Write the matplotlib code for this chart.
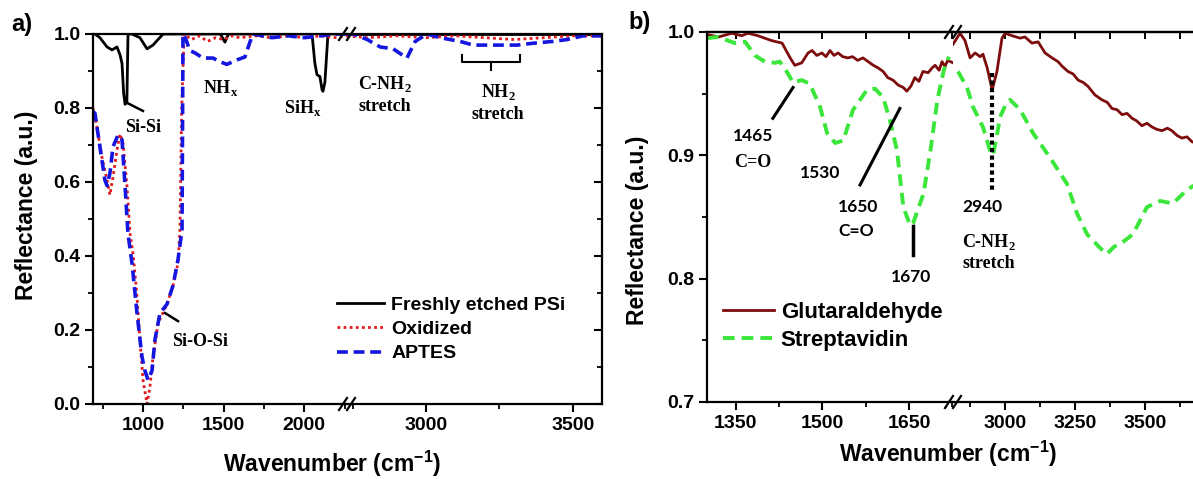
import matplotlib
matplotlib.use("Agg")
import matplotlib.pyplot as plt
from matplotlib.lines import Line2D
from matplotlib.ticker import MultipleLocator, FormatStrFormatter

# ---- panel a data (wavenumber in cm-1, reflectance) ----
psi_lo_wn = [690, 702, 733, 777, 808, 839, 858, 870, 880, 889, 900, 907, 931, 981, 1025, 1062, 1093, 1125,
             1480, 1508, 1530, 2048, 2066, 2079, 2097, 2110, 2116, 2128, 2147, 2265]
psi_lo_r = [1.0, 1.0, 0.99, 0.965, 0.957, 0.965, 0.943, 0.92, 0.84, 0.81, 0.815, 1.0, 1.0, 0.99, 0.96, 0.97,
            0.985, 1.0, 1.0, 0.978, 1.0, 1.0, 0.92, 0.89, 0.885, 0.85, 0.845, 0.87, 1.0, 1.0]
psi_hi_wn = [2730, 3600]
psi_hi_r = [1.0, 1.0]

ox_lo_wn = [690, 710, 745, 777, 795, 814, 839, 857, 876, 901, 920, 940, 963, 981, 1000, 1025, 1043, 1062,
            1093, 1149, 1186, 1217, 1229, 1240, 1255, 1300, 1350, 1400, 1450, 1500, 1550, 1600, 1700, 1800,
            1900, 2000, 2100, 2200, 2265]
ox_lo_r = [0.80, 0.76, 0.668, 0.605, 0.565, 0.614, 0.686, 0.73, 0.705, 0.587, 0.46, 0.40, 0.29, 0.173, 0.065,
           0.0, 0.046, 0.127, 0.218, 0.27, 0.32, 0.38, 0.47, 0.8, 1.0, 0.985, 0.995, 0.98, 0.99, 0.985, 0.995,
           0.99, 0.995, 0.99, 0.995, 0.99, 0.995, 0.99, 0.995]
ox_hi_wn = [2730, 2800, 2900, 3000, 3100, 3200, 3300, 3400, 3500, 3600]
ox_hi_r = [0.995, 0.99, 0.995, 0.99, 0.995, 0.99, 0.985, 0.99, 0.995, 0.995]

ap_lo_wn = [690, 702, 721, 745, 764, 777, 795, 814, 845, 870, 889, 907, 932, 963, 994, 1012, 1031, 1056,
            1074, 1105, 1149, 1186, 1217, 1242, 1248, 1262, 1291, 1322, 1372, 1434, 1477, 1520, 1583, 1632,
            1663, 1682, 1800, 1900, 2000, 2100, 2200, 2265]
ap_lo_r = [0.79, 0.786, 0.73, 0.66, 0.605, 0.59, 0.624, 0.695, 0.727, 0.714, 0.587, 0.46, 0.38, 0.245, 0.127,
           0.09, 0.065, 0.09, 0.173, 0.245, 0.27, 0.32, 0.39, 0.47, 1.0, 0.99, 0.955, 0.949, 0.935, 0.935,
           0.925, 0.918, 0.93, 0.938, 0.978, 1.0, 0.99, 0.995, 0.99, 0.995, 1.0, 1.0]
ap_hi_wn = [2730, 2752, 2800, 2844, 2888, 2935, 2963, 3003, 3048, 3116, 3160, 3252, 3310, 3364, 3432, 3480,
            3534, 3600]
ap_hi_r = [1.0, 1.0, 0.985, 0.965, 0.96, 0.935, 0.98, 1.0, 0.99, 0.98, 0.97, 0.97, 0.97, 0.975, 0.98, 0.985,
           0.995, 0.995]

# ---- panel b data ----
glu_lo_wn = [1300, 1320, 1343, 1360, 1371, 1388, 1412, 1430, 1444, 1452, 1464, 1475, 1482, 1490, 1499, 1506,
             1513, 1520, 1527, 1535, 1544, 1552, 1561, 1570, 1579, 1588, 1596, 1605, 1613, 1622, 1631, 1640,
             1646, 1653, 1660, 1667, 1674, 1683, 1690, 1695, 1702, 1707, 1712, 1717, 1726]
glu_lo_r = [0.998, 0.996, 0.999, 0.997, 0.999, 0.997, 0.993, 0.991, 0.979, 0.973, 0.975, 0.983, 0.985, 0.981,
            0.983, 0.98, 0.985, 0.981, 0.983, 0.98, 0.979, 0.98, 0.977, 0.979, 0.976, 0.973, 0.971, 0.968,
            0.963, 0.961, 0.957, 0.955, 0.952, 0.956, 0.963, 0.96, 0.968, 0.967, 0.971, 0.973, 0.969, 0.976,
            0.972, 0.977, 0.975]
glu_hi_wn = [2814, 2839, 2857, 2875, 2893, 2911, 2921, 2936, 2954, 2971, 2989, 3000, 3025, 3054, 3071, 3096,
             3118, 3143, 3168, 3189, 3205, 3225, 3243, 3261, 3280, 3296, 3321, 3346, 3365, 3382, 3400, 3418,
             3436, 3454, 3470, 3489, 3507, 3525, 3543, 3561, 3580, 3596, 3615, 3632, 3650, 3668, 3693]
glu_hi_r = [0.99, 0.999, 0.993, 0.979, 0.983, 0.98, 0.982, 0.971, 0.953, 0.968, 0.995, 0.999, 0.997, 0.995,
            0.996, 0.991, 0.992, 0.983, 0.979, 0.976, 0.972, 0.968, 0.966, 0.961, 0.959, 0.956, 0.949, 0.945,
            0.943, 0.938, 0.937, 0.933, 0.934, 0.93, 0.928, 0.924, 0.926, 0.923, 0.921, 0.92, 0.922, 0.92,
            0.916, 0.914, 0.915, 0.911, 0.909]

str_lo_wn = [1300, 1319, 1348, 1366, 1383, 1400, 1418, 1426, 1438, 1449, 1464, 1478, 1496, 1508, 1522, 1536,
             1553, 1577, 1591, 1605, 1617, 1629, 1640, 1652, 1657, 1675, 1687, 1699, 1710, 1719]
str_lo_r = [0.995, 0.996, 0.991, 0.992, 0.981, 0.976, 0.975, 0.976, 0.968, 0.959, 0.961, 0.958, 0.939, 0.918,
            0.91, 0.912, 0.937, 0.953, 0.954, 0.947, 0.928, 0.904, 0.858, 0.843, 0.845, 0.869, 0.904, 0.945,
            0.969, 0.98]
str_hi_wn = [2832, 2864, 2886, 2921, 2946, 2957, 2970, 2982, 3000, 3018, 3054, 3100, 3161, 3221, 3257, 3293,
             3339, 3364, 3390, 3411, 3457, 3507, 3554, 3600, 3650, 3671, 3700]
str_hi_r = [0.968, 0.955, 0.939, 0.923, 0.904, 0.9, 0.915, 0.931, 0.94, 0.945, 0.937, 0.918, 0.898, 0.877,
            0.853, 0.836, 0.825, 0.82, 0.826, 0.828, 0.836, 0.858, 0.863, 0.861, 0.872, 0.875, 0.878]

plt.rcParams["font.family"] = "Liberation Sans"
plt.rcParams["font.weight"] = "bold"
plt.rcParams["axes.linewidth"] = 1.6
plt.rcParams["mathtext.fontset"] = "custom"
plt.rcParams["mathtext.rm"] = "Liberation Serif:bold"
plt.rcParams["mathtext.bf"] = "Liberation Serif:bold"
plt.rcParams["mathtext.sf"] = "Liberation Sans:bold"

W, H = 1193, 479
fig = plt.figure(figsize=(W / 100, H / 100), dpi=100)


def box(x0, x1, ytop, ybot):
    return [x0 / W, 1 - ybot / H, (x1 - x0) / W, (ybot - ytop) / H]


def brk(xpx, ypx):
    for dx in (-4, 4):
        fig.add_artist(Line2D([(xpx + dx - 4) / W, (xpx + dx + 4) / W], [1 - (ypx + 6) / H, 1 - (ypx - 6) / H],
                              color="k", lw=1.6, transform=fig.transFigure))


serif = dict(family="Liberation Serif", weight="bold", size=13)
calib = dict(family="Lato", weight="bold", size=12.5)

ax1 = fig.add_axes(box(93, 347, 34, 404))
ax2 = fig.add_axes(box(347, 602, 34, 404))
ax3 = fig.add_axes(box(707, 953, 32, 402))
ax4 = fig.add_axes(box(953, 1199, 32, 402))

# panel a curves
segs = {ax1: (psi_lo_wn, psi_lo_r, ox_lo_wn, ox_lo_r, ap_lo_wn, ap_lo_r),
        ax2: (psi_hi_wn, psi_hi_r, ox_hi_wn, ox_hi_r, ap_hi_wn, ap_hi_r)}
for ax, d in segs.items():
    l1, = ax.plot(d[0], d[1], color="black", lw=2)
    l2, = ax.plot(d[2], d[3], color="#e2191c", lw=2, ls=(0, (1, 1.2)))
    l3, = ax.plot(d[4], d[5], color="#1515e0", lw=2.6, ls=(0, (3, 1.6)))
    ax.set_ylim(0, 1.0)
ax1.set_xlim(690, 2265)
ax2.set_xlim(2731, 3599)

for ax in (ax1, ax2):
    ax.xaxis.set_major_locator(MultipleLocator(500))
    ax.xaxis.set_minor_locator(MultipleLocator(250))
    ax.yaxis.set_major_locator(MultipleLocator(0.2))
    ax.yaxis.set_minor_locator(MultipleLocator(0.1))
    ax.yaxis.set_major_formatter(FormatStrFormatter("%.1f"))
    ax.tick_params(which="major", length=6, width=1.5, labelsize=14, pad=3)
    ax.tick_params(which="minor", length=3.5, width=1.3)
ax1.spines["right"].set_visible(False)
ax1.tick_params(axis="x", which="both", direction="out", top=False)
ax1.tick_params(axis="y", which="both", direction="out", right=False)
ax2.spines["left"].set_visible(False)
ax2.tick_params(axis="x", which="both", direction="out", top=False)
ax2.tick_params(axis="y", which="both", direction="in", left=False, labelleft=False, right=True)

ax2.legend([l1, l2, l3], ["Freshly etched PSi", "Oxidized", "APTES"], loc="upper left",
           bbox_to_anchor=(337 / W, 1 - 296 / H), bbox_transform=fig.transFigure, frameon=False,
           fontsize=14, handlelength=2.4, handletextpad=0.4, labelspacing=0.35, borderpad=0, borderaxespad=0)

# panel a annotations
ax1.text(1484, 0.854, "NH$_\\mathrm{x}$", ha="center", va="center", **serif)
ax1.text(1000, 0.746, "Si-Si", ha="center", va="center", **serif)
ax1.text(1992, 0.80, "SiH$_\\mathrm{x}$", ha="center", va="center", **serif)
ax1.text(1353, 0.168, "Si-O-Si", ha="center", va="center", **serif)
ax1.plot([901, 1000], [0.814, 0.792], color="k", lw=1.8)
ax1.plot([1136, 1217], [0.246, 0.224], color="k", lw=1.8)
ax2.text(2861, 0.836, "C-NH$_\\mathrm{2}$\nstretch", ha="center", va="center", linespacing=1.3, **serif)
ax2.text(3245, 0.816, "NH$_\\mathrm{2}$\nstretch", ha="center", va="center", linespacing=1.3, **serif)
ax2.plot([3122, 3122, 3320, 3320], [0.943, 0.924, 0.924, 0.943], color="k", lw=1.5)
ax2.plot([3221, 3221], [0.924, 0.903], color="k", lw=1.5)

# panel b curves
g1, = ax3.plot(glu_lo_wn, glu_lo_r, color="#7d0c0c", lw=2)
s1, = ax3.plot(str_lo_wn, str_lo_r, color="#3ae63a", lw=2.8, ls=(0, (3, 1.8)))
ax4.plot(glu_hi_wn, glu_hi_r, color="#7d0c0c", lw=2)
ax4.plot(str_hi_wn, str_hi_r, color="#3ae63a", lw=2.8, ls=(0, (3, 1.8)))
ax3.set_xlim(1300, 1726)
ax4.set_xlim(2814, 3693)
for ax, step in ((ax3, 150), (ax4, 250)):
    ax.set_ylim(0.7, 1.0)
    ax.xaxis.set_major_locator(MultipleLocator(step))
    ax.xaxis.set_minor_locator(MultipleLocator(step / 2))
    ax.yaxis.set_major_locator(MultipleLocator(0.1))
    ax.yaxis.set_minor_locator(MultipleLocator(0.05))
    ax.yaxis.set_major_formatter(FormatStrFormatter("%.1f"))
    ax.tick_params(which="major", direction="out", length=6, width=1.5, labelsize=14, pad=3, top=False)
    ax.tick_params(which="minor", direction="out", length=3.5, width=1.3, top=False)
    sec = ax.secondary_xaxis("top")
    sec.xaxis.set_major_locator(MultipleLocator(step / 2))
    sec.tick_params(direction="in", length=5, width=1.4, labeltop=False)
    sec.spines["top"].set_linewidth(1.6)
ax3.spines["right"].set_visible(False)
ax3.tick_params(axis="y", which="both", right=False)
ax4.spines["left"].set_visible(False)
ax4.spines["right"].set_visible(False)
ax4.tick_params(axis="y", which="both", left=False, right=False, labelleft=False)

ax3.legend([g1, s1], ["Glutaraldehyde", "Streptavidin"], loc="upper left",
           bbox_to_anchor=(723 / W, 1 - 302 / H), bbox_transform=fig.transFigure, frameon=False,
           fontsize=16, handlelength=2.3, handletextpad=0.3, labelspacing=0.3, borderpad=0, borderaxespad=0)

# panel b annotations
ax3.text(1379.5, 0.916, "1465", ha="center", va="center", **calib)
ax3.text(1379.5, 0.894, "C=O", ha="center", va="center", **serif)
ax3.text(1495.6, 0.886, "1530", ha="center", va="center", **calib)
ax3.text(1561, 0.858, "1650", ha="center", va="center", **calib)
ax3.text(1558, 0.839, "C=O", ha="center", va="center", **calib)
ax3.text(1653, 0.801, "1670", ha="center", va="center", **calib)
ax3.plot([1414, 1449], [0.930, 0.955], color="k", lw=2.2)
ax3.plot([1565, 1634], [0.876, 0.938], color="k", lw=2.2)
ax3.plot([1657, 1657], [0.843, 0.819], color="k", lw=2.5)
ax4.text(2918, 0.858, "2940", ha="center", va="center", **calib)
ax4.text(2943, 0.8215, "C-NH$_\\mathrm{2}$\nstretch", ha="center", va="center", linespacing=1.2, **serif)
ax4.plot([2954, 2954], [0.967, 0.872], color="k", lw=3, ls=(0, (1, 0.8)))

# break marks
brk(347, 34)
brk(347, 404)
brk(953, 32)
brk(953, 402)

# labels
fig.text(22 / W, 1 - 24 / H, "a)", fontsize=17, ha="center", va="center")
fig.text(640 / W, 1 - 23 / H, "b)", fontsize=17, ha="center", va="center")
fig.text(27 / W, 1 - 205 / H, "Reflectance (a.u.)", fontsize=16.5, rotation=90, ha="center", va="center")
fig.text(637 / W, 1 - 230 / H, "Reflectance (a.u.)", fontsize=16.5, rotation=90, ha="center", va="center")
fig.text(332 / W, 1 - 472 / H, "Wavenumber (cm$^{\\mathsf{-1}}$)", fontsize=16.5, ha="center", va="baseline")
fig.text(948 / W, 1 - 462 / H, "Wavenumber (cm$^{\\mathsf{-1}}$)", fontsize=16.5, ha="center", va="baseline")

fig.savefig("out.png", dpi=100)
